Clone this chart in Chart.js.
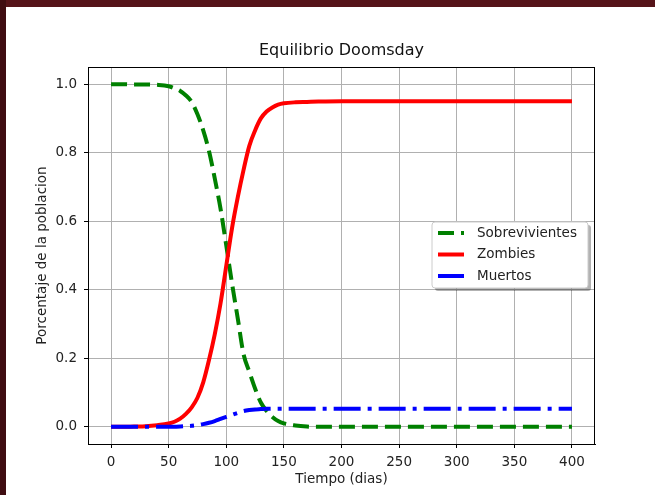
<!DOCTYPE html>
<html>
<head>
<meta charset="utf-8">
<script src="https://cdn.jsdelivr.net/npm/chart.js@4"></script>
<style>
  body { margin: 0; background: #561419; }
  #wrap { width: 655px; height: 495px; }
</style>
</head>
<body>
<div id="wrap"><canvas id="chart1" width="655" height="495"></canvas></div>
<script>
// data
const tiempo = [0, 10, 20, 30, 40, 50, 55, 60, 65, 70, 75, 80, 85, 90, 95, 100, 105, 110, 115, 120,
    125, 130, 135, 140, 145, 150, 160, 170, 180, 200, 250, 300, 350, 400];
const sobrevivientes = [1.0, 1.0, 0.999, 0.999, 0.998, 0.994, 0.988, 0.98, 0.967, 0.948, 0.912, 0.865, 0.805, 0.725, 0.637, 0.529,
    0.418, 0.316, 0.212, 0.161, 0.112, 0.071, 0.046, 0.029, 0.017, 0.01, 0.004, 0.001, 0, 0, 0, 0, 0, 0];
const zombies = [0, 0, 0.001, 0.002, 0.005, 0.01, 0.015, 0.024, 0.038, 0.057, 0.085, 0.13, 0.195, 0.27, 0.36, 0.47,
    0.58, 0.67, 0.75, 0.82, 0.865, 0.9, 0.92, 0.932, 0.94, 0.944, 0.947, 0.948, 0.949, 0.95, 0.95, 0.95, 0.95, 0.95];
const muertos = [0, 0, 0, 0, 0, 0, 0.0005, 0.001, 0.002, 0.003, 0.005, 0.008, 0.012, 0.017, 0.023, 0.029,
    0.035, 0.041, 0.046, 0.049, 0.051, 0.052, 0.053, 0.053, 0.053, 0.053, 0.053, 0.053, 0.053, 0.053, 0.053, 0.053, 0.053, 0.053];
const xTicks = [0, 50, 100, 150, 200, 250, 300, 350, 400];
const yTicks = [0.0, 0.2, 0.4, 0.6, 0.8, 1.0];

const FONT = "'DejaVu Sans', sans-serif";
const ctx = document.getElementById('chart1');

const pts = arr => arr.map((v, i) => ({ x: tiempo[i], y: v }));

// white page over the dark red backdrop, plus axes frame, title and boxed legend
const decor = {
    id: 'decor',
    beforeDraw(chart) {
        const c = chart.ctx;
        c.save();
        c.fillStyle = '#561419';
        c.fillRect(0, 0, chart.width, chart.height);
        c.fillStyle = '#3f0d11';
        c.fillRect(0, 0, 6, chart.height);
        c.fillStyle = '#ffffff';
        c.fillRect(6, 7, chart.width - 6, chart.height - 7);
        c.restore();
    },
    afterDraw(chart) {
        const c = chart.ctx;
        const a = chart.chartArea;
        c.save();
        c.strokeStyle = '#000';
        c.lineWidth = 1;
        c.strokeRect(a.left + 0.5, a.top + 0.5, a.right - a.left - 1, a.bottom - a.top);

        c.fillStyle = '#111';
        c.font = '16px ' + FONT;
        c.textAlign = 'center';
        c.textBaseline = 'middle';
        c.fillText('Equilibrio Doomsday', (a.left + a.right) / 2, 51);

        // legend
        const lx = 432, ly = 222, lw = 156, lh = 66;
        c.fillStyle = 'rgba(0,0,0,0.3)';
        roundRect(c, lx + 3, ly + 3, lw, lh, 3);
        c.fill();
        c.fillStyle = '#ffffff';
        c.strokeStyle = '#cccccc';
        roundRect(c, lx, ly, lw, lh, 3);
        c.fill();
        c.stroke();

        c.font = '13.5px ' + FONT;
        c.textAlign = 'left';
        chart.data.datasets.forEach((ds, i) => {
            const y = ly + 11 + i * 21.5;
            c.strokeStyle = ds.borderColor;
            c.lineWidth = 4;
            c.setLineDash(ds.borderDash || []);
            c.beginPath();
            c.moveTo(lx + 6, y);
            c.lineTo(lx + 32, y);
            c.stroke();
            c.setLineDash([]);
            c.fillStyle = '#222';
            c.fillText(ds.label, lx + 45, y);
        });
        c.restore();
    }
};

function roundRect(c, x, y, w, h, r) {
    c.beginPath();
    c.moveTo(x + r, y);
    c.arcTo(x + w, y, x + w, y + h, r);
    c.arcTo(x + w, y + h, x, y + h, r);
    c.arcTo(x, y + h, x, y, r);
    c.arcTo(x, y, x + w, y, r);
    c.closePath();
}

new Chart(ctx, {
    type: 'line',
    data: {
        datasets: [{
            label: 'Sobrevivientes',
            data: pts(sobrevivientes),
            borderColor: '#008000',
            borderDash: [16, 7],
            order: 3
        }, {
            label: 'Zombies',
            data: pts(zombies),
            borderColor: '#ff0000',
            order: 2
        }, {
            label: 'Muertos',
            data: pts(muertos),
            borderColor: '#0000ff',
            borderDash: [27, 7, 4, 7],
            order: 1
        }]
    },
    options: {
        responsive: false,
        animation: false,
        events: [],
        layout: { padding: { top: 67, right: 60, left: 0, bottom: 0 } },
        elements: {
            point: { radius: 0 },
            line: { borderWidth: 4, cubicInterpolationMode: 'monotone', fill: false, borderCapStyle: 'butt' }
        },
        plugins: { legend: { display: false }, title: { display: false }, tooltip: { enabled: false } },
        scales: {
            x: {
                type: 'linear',
                min: -20,
                max: 420,
                afterFit: s => { s.height = 51; },
                afterBuildTicks: s => { s.ticks = xTicks.map(v => ({ value: v })); },
                grid: { color: '#b0b0b0', lineWidth: 1, tickColor: '#000', tickLength: 4 },
                border: { display: true, color: '#000' },
                ticks: { color: '#222', font: { family: FONT, size: 13.5 }, padding: 6, maxRotation: 0 },
                title: {
                    display: true, text: 'Tiempo (dias)', color: '#222',
                    font: { family: FONT, size: 13.5 }, padding: { top: 0, bottom: 7 }
                }
            },
            y: {
                type: 'linear',
                min: -0.05,
                max: 1.05,
                afterFit: s => { s.width = 88; },
                afterBuildTicks: s => { s.ticks = yTicks.map(v => ({ value: v })); },
                grid: { color: '#b0b0b0', lineWidth: 1, tickColor: '#000', tickLength: 4 },
                border: { display: true, color: '#000' },
                ticks: {
                    color: '#222', font: { family: FONT, size: 13.5 }, padding: 7,
                    callback: v => v.toFixed(1)
                },
                title: {
                    display: true, text: 'Porcentaje de la poblacion', color: '#222',
                    font: { family: FONT, size: 13.5 }, padding: { top: 34, bottom: 0 }
                }
            }
        }
    },
    plugins: [decor]
});
</script>
</body>
</html>
